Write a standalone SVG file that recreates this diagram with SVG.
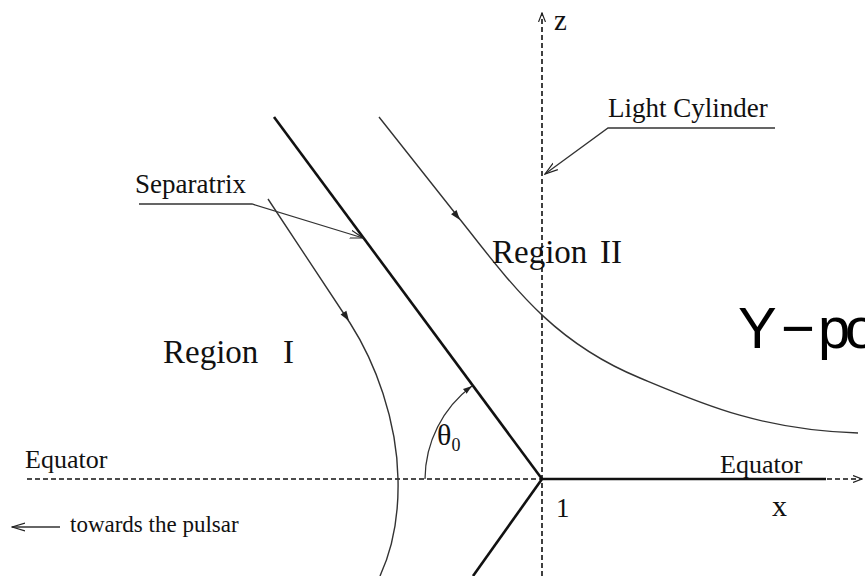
<svg xmlns="http://www.w3.org/2000/svg" width="865" height="576" viewBox="0 0 865 576">
<style>
.serif{font-family:"Liberation Serif","Times New Roman",serif;fill:#111}
.axis{fill:none;stroke:#111;stroke-width:1.6;stroke-dasharray:5 3}
.thick{fill:none;stroke:#111;stroke-width:2.6}
.thin{fill:none;stroke:#333;stroke-width:1.4}
.lead{fill:none;stroke:#333;stroke-width:1.3}
.head{fill:#222}
</style>
<defs>
<marker id="open" viewBox="0 0 14 10" refX="13" refY="5" markerWidth="14" markerHeight="10" markerUnits="userSpaceOnUse" orient="auto">
<path d="M0,1 L13,5 L0,9" fill="none" stroke="#222" stroke-width="1.2"/>
</marker>
<marker id="small" viewBox="0 0 10 8" refX="9" refY="4" markerWidth="10" markerHeight="8" markerUnits="userSpaceOnUse" orient="auto">
<path d="M0,0.5 L9,4 L0,7.5" fill="none" stroke="#222" stroke-width="1.2"/>
</marker>
<marker id="fill" viewBox="0 0 10 8" refX="9" refY="4" markerWidth="10" markerHeight="8" markerUnits="userSpaceOnUse" orient="auto">
<path d="M0,1 L9,4 L0,7 Z" fill="#222"/>
</marker>
</defs>
<g id="axes">
<line class="axis" x1="542" y1="576" x2="542" y2="13" marker-end="url(#small)"/>
<line class="axis" x1="27" y1="479" x2="862" y2="479" marker-end="url(#small)"/>
</g>
<g id="connectors">
<line class="thick" x1="274" y1="117" x2="542" y2="479"/>
<line class="thick" x1="542" y1="479" x2="473" y2="576"/>
<line class="thick" x1="542" y1="479" x2="826" y2="479"/>
<path class="thin" d="M268,199 L350,323 C375,362 397,420 398,479 C399,520 392,550 380,576"/>
<path class="thin" d="M379,117 L470,232 C520,296 560,345 640,378 C700,403 760,430 858,433"/>
<polygon class="head" points="0,0 -10,-3.5 -10,3.5" transform="translate(349,321) rotate(56.5)"/>
<polygon class="head" points="0,0 -10,-3.5 -10,3.5" transform="translate(460,220) rotate(51.7)"/>
<path class="lead" d="M425,479 A117,117 0 0 1 472,386" marker-end="url(#fill)"/>
<path class="lead" d="M139,204 L252,204 L363,238" marker-end="url(#open)"/>
<path class="lead" d="M775,128 L608,128 L545,174" marker-end="url(#open)"/>
<line class="lead" x1="60" y1="527" x2="12" y2="527" marker-end="url(#open)"/>
</g>
<g id="label-z"><text class="serif" x="554" y="30" font-size="29">z</text></g>
<g id="label-light-cylinder"><text class="serif" x="608" y="117" font-size="27">Light Cylinder</text></g>
<g id="label-separatrix"><text class="serif" x="135" y="193" font-size="27">Separatrix</text></g>
<g id="label-region-1"><text class="serif" x="163" y="363" font-size="33">Region<tspan x="283">I</tspan></text></g>
<g id="label-region-2"><text class="serif" x="492" y="263" font-size="33">Region<tspan x="600">II</tspan></text></g>
<g id="label-theta"><text class="serif" x="437" y="445" font-size="30">θ<tspan font-size="18" dy="6">0</tspan></text></g>
<g id="label-equator-left"><text class="serif" x="25" y="468" font-size="26">Equator</text></g>
<g id="label-equator-right"><text class="serif" x="720" y="473" font-size="26">Equator</text></g>
<g id="label-one"><text class="serif" x="556" y="517" font-size="27">1</text></g>
<g id="label-x"><text class="serif" x="772" y="516" font-size="30">x</text></g>
<g id="label-pulsar"><text class="serif" x="70" y="532" font-size="23">towards the pulsar</text></g>
<g id="label-ypoint"><text x="738 781 818 845" y="348" font-family="Liberation Sans, Arial, sans-serif" font-size="58" fill="#000">Y−po</text></g>
</svg>
